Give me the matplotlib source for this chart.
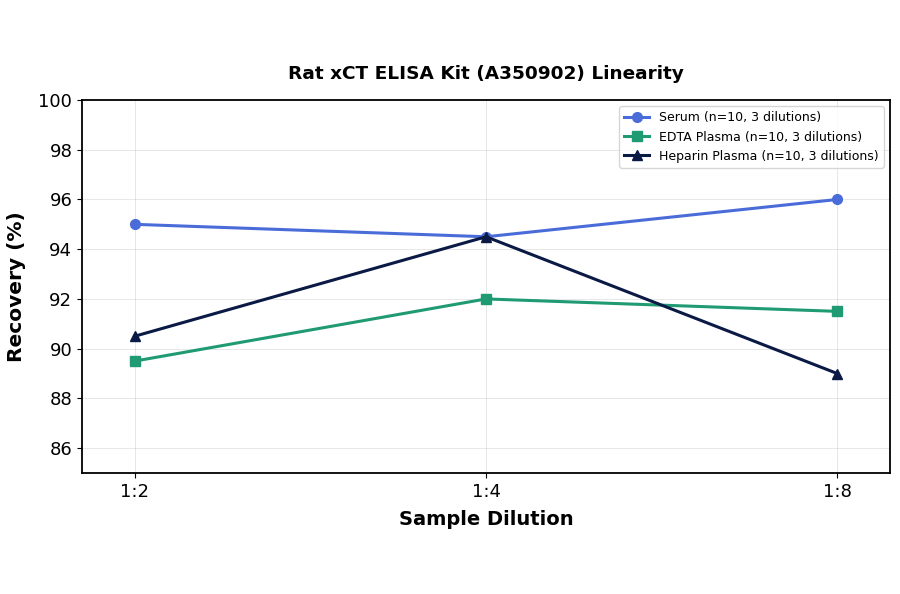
import matplotlib
matplotlib.use('Agg')
import matplotlib.pyplot as plt

# Data
dilutions = ['1:2', '1:4', '1:8']
serum = [95.0, 94.5, 96.0]
edta = [89.5, 92.0, 91.5]
heparin = [90.5, 94.5, 89.0]

fig = plt.figure(figsize=(9, 5.94), dpi=100)
ax = fig.add_axes([82 / 900, 1 - 473 / 594, (890 - 82) / 900, (473 - 100) / 594])

x = range(len(dilutions))
ax.plot(x, serum, color='#4a6cd8', marker='o', markersize=7, linewidth=2.2,
        label='Serum (n=10, 3 dilutions)')
ax.plot(x, edta, color='#1f9a73', marker='s', markersize=7, linewidth=2.2,
        label='EDTA Plasma (n=10, 3 dilutions)')
ax.plot(x, heparin, color='#0b1a45', marker='^', markersize=7, linewidth=2.2,
        label='Heparin Plasma (n=10, 3 dilutions)')

ax.set_xticks(list(x))
ax.set_xticklabels(dilutions)
ax.set_xlim(-0.15, 2.15)
ax.set_ylim(85, 100)
ax.set_yticks([86, 88, 90, 92, 94, 96, 98, 100])
ax.tick_params(labelsize=13)

ax.set_title('Rat xCT ELISA Kit (A350902) Linearity', fontsize=13.3, fontweight='bold', pad=15)
ax.set_xlabel('Sample Dilution', fontsize=14, fontweight='bold', labelpad=7)
ax.set_ylabel('Recovery (%)', fontsize=14.5, fontweight='bold', labelpad=9)
ax.grid(True, alpha=0.3, linestyle='-', linewidth=0.7)
for s in ax.spines.values():
    s.set_linewidth(1.3)

ax.legend(loc='upper right', fontsize=9)

fig.savefig('out.png', dpi=100)
